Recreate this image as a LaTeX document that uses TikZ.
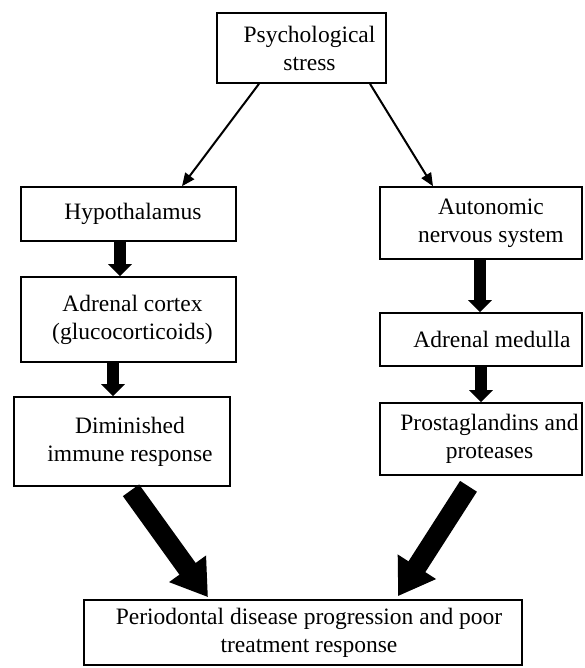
\documentclass[tikz,border=0pt]{standalone}
\usepackage{fontspec}
\setmainfont{Liberation Serif}
\usetikzlibrary{arrows.meta,calc}
\begin{document}
\begin{tikzpicture}[x=1pt,y=-1pt,
  box/.style={draw=black,line width=1.6pt,rectangle,inner sep=0pt},
  lbl/.style={font=\fontsize{23.5}{28}\selectfont,align=center,inner sep=0pt},
  thin/.style={line width=2pt,-{Triangle[width=11pt,length=13pt]}},
  fatv/.style={line width=12pt,-{Triangle[width=23pt,length=12pt]}},
  fatd/.style={line width=20pt,-{Triangle[width=43pt,length=35pt]}}]
\useasboundingbox (0,0) rectangle (584,668);
% boxes
\node[box,minimum width=169pt,minimum height=70pt,
  label={[lbl,name=pst,xshift=8pt]center:{Psychological\\stress}}] (ps) at (301.5,48) {};
\node[box,minimum width=215pt,minimum height=54pt,
  label={[lbl,name=hypt,xshift=4.5pt]center:{Hypothalamus}}] (hyp) at (128.5,214) {};
\node[box,minimum width=215pt,minimum height=85pt,
  label={[lbl,name=adct,xshift=4pt]center:{Adrenal cortex\\(glucocorticoids)}}] (adc) at (128.5,319.5) {};
\node[box,minimum width=216pt,minimum height=89pt,
  label={[lbl,name=dimt,xshift=8pt]center:{Diminished\\immune response}}] (dim) at (122,441.5) {};
\node[box,minimum width=202pt,minimum height=72pt,
  label={[lbl,name=anst,xshift=10pt]center:{Autonomic\\nervous system}}] (ans) at (481,223) {};
\node[box,minimum width=202pt,minimum height=53pt,
  label={[lbl,name=admt,xshift=11pt]center:{Adrenal medulla}}] (adm) at (481,339.5) {};
\node[box,minimum width=202pt,minimum height=72pt,
  label={[lbl,name=prot,xshift=8.5pt]center:{Prostaglandins and\\proteases}}] (pro) at (481,439) {};
\node[box,minimum width=438pt,minimum height=65pt,
  label={[lbl,name=pert,xshift=6pt]center:{Periodontal disease progression and poor\\treatment response}}] (per) at (303,632.5) {};
% thin arrows
\draw[thin] ([xshift=-42.5pt]ps.south) -- ([xshift=53.5pt]hyp.north);
\draw[thin] ([xshift=68.5pt]ps.south) -- ([xshift=-48pt]ans.north);
% thick vertical arrows
\draw[fatv] ([xshift=-8.5pt]hyp.south) -- ([xshift=-8.5pt]adc.north);
\draw[fatv] ([xshift=-9pt]dim.north |- adc.south) -- ([xshift=-9pt]dim.north);
\draw[fatv] ([xshift=-1pt]ans.south) -- ([xshift=-1pt]adm.north);
\draw[fatv] (adm.south) -- (pro.north);
% big diagonal arrows
\coordinate (lt) at ($(dim.south)+(9,3.5)$);
\coordinate (lh) at ($(per.north)+(-95,-2)$);
\coordinate (rt) at ($(pro.south)+(-12.5,10.5)$);
\coordinate (rh) at ($(per.north)+(95,-3)$);
\draw[fatd] (lt) -- (lh);
\draw[fatd] (rt) -- (rh);
\end{tikzpicture}
\end{document}
